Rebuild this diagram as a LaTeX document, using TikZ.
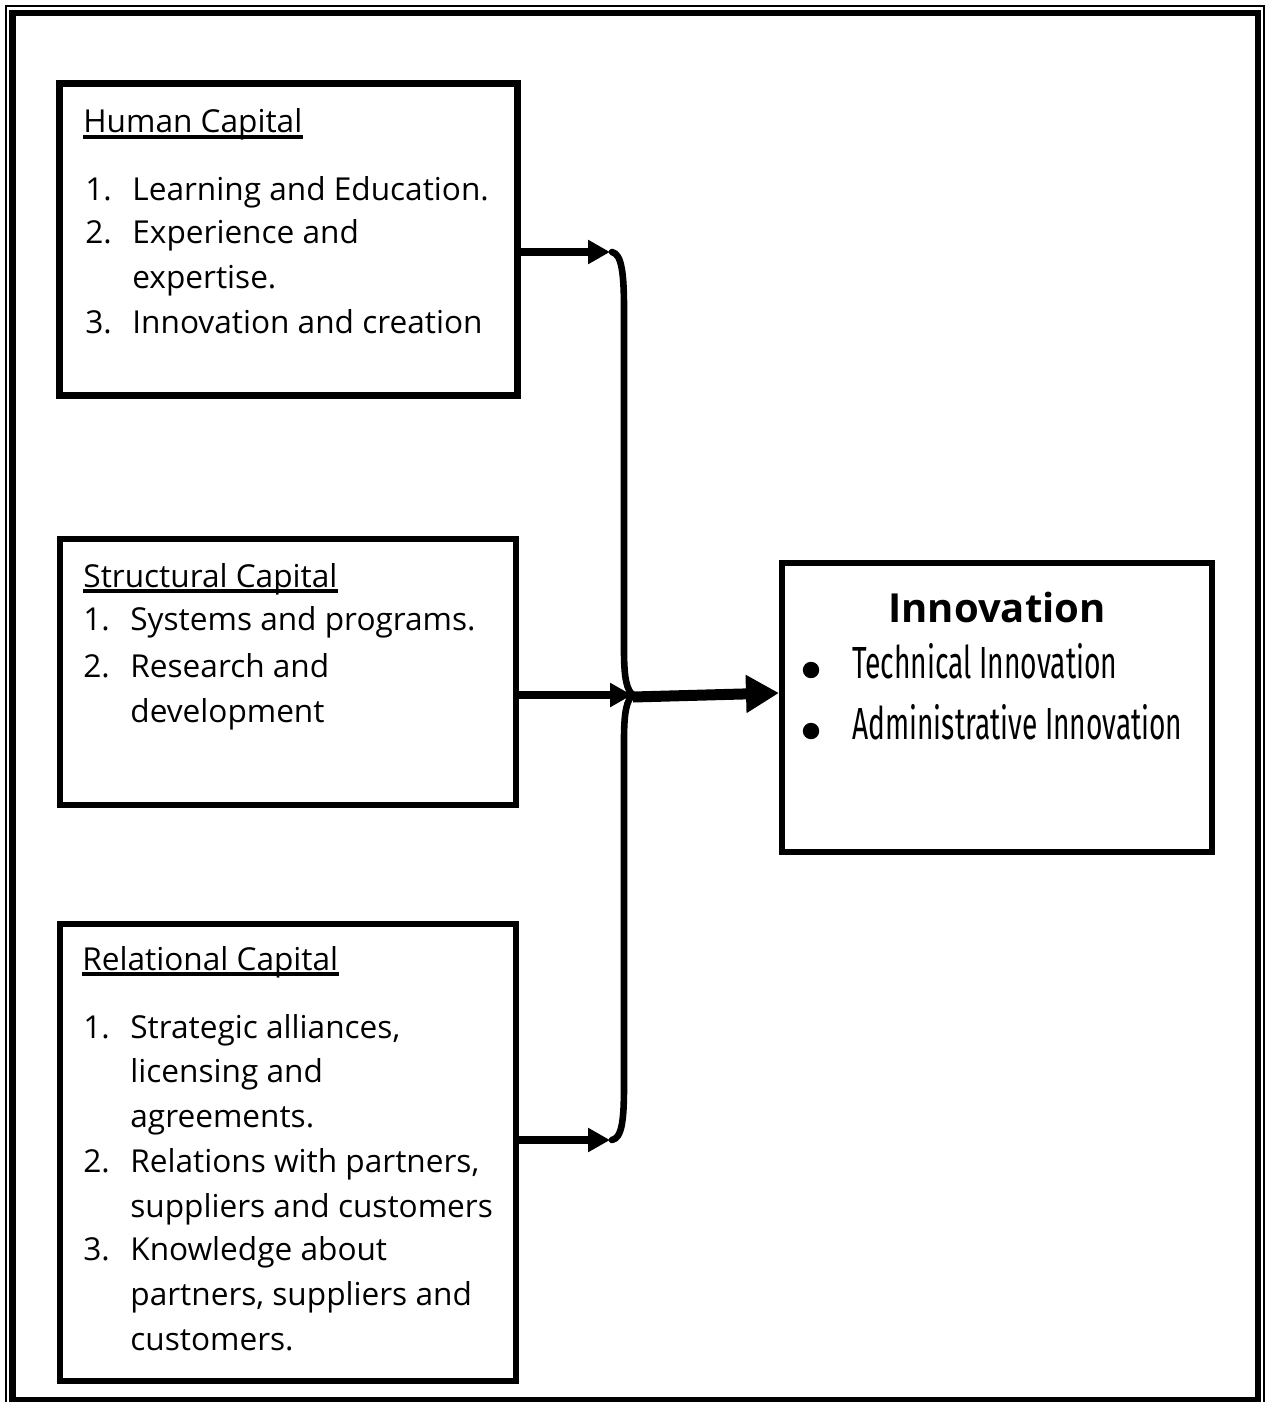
\documentclass[tikz,border=0pt]{standalone}
\usepackage{fontspec}
\usepackage{graphicx}
\setmainfont{Open Sans}
\newfontfamily\condfont{Fira Sans}
\usetikzlibrary{arrows.meta}
\begin{document}
\begin{tikzpicture}[x=0.5pt,y=-0.5pt,
  box/.style={draw,inner sep=0pt,outer sep=0pt},
  txt/.style={anchor=base west,inner sep=0pt,font=\fontsize{15.8}{19}\selectfont},
  cond/.style={anchor=base west,inner sep=0pt,font=\condfont\fontsize{22.5}{26}\selectfont},
  bul/.style={circle,fill,inner sep=0pt,minimum size=8.2pt},
  arr/.style={line width=4pt,-{Triangle[length=11pt,width=11.5pt]}},
  bigarr/.style={line width=5.5pt,-{Triangle[length=16.5pt,width=18pt]}},
  bracestyle/.style={line width=3.3pt,line cap=round,line join=round},
  uline/.style={line width=1.6pt}]
\useasboundingbox (0,0) rectangle (1270,1402);
\fill[white] (0,0) rectangle (1270,1402);
% page frame
\draw[line width=1pt] (5.5,6.5) rectangle (1264,1430);
\draw[line width=3.25pt] (12.5,13) rectangle (1258,1400);

% boxes
\node[box,line width=3.5pt,minimum width=229pt,minimum height=155.5pt] (hc) at (288,239.5) {};
\node[box,line width=3pt,minimum width=228.25pt,minimum height=133pt] (sc) at (288,672) {};
\node[box,line width=3pt,minimum width=228.25pt,minimum height=228.5pt] (rc) at (288,1152.5) {};
\node[box,line width=2.6pt,minimum width=215pt,minimum height=144.5pt] (ic) at (997,707.5) {};

% Human capital text
\node[txt] (hch) at (83,133) {Human Capital};
\draw[uline] ([yshift=-2pt]hch.base west) -- ([yshift=-2pt]hch.base east);
\node[txt] (hn1) at (85,200) {1.};
\node[txt] (ht1) at (132,200) {Learning and Education.};
\node[txt] (hn2) at (85,243) {2.};
\node[txt] (ht2) at (132,243) {Experience and};
\node[txt] (ht3) at (132,288) {expertise.};
\node[txt] (hn3) at (85,333) {3.};
\node[txt] (ht4) at (132,333) {Innovation and creation};

% Structural capital text
\node[txt] (sch) at (83,587) {Structural Capital};
\draw[uline] ([yshift=-2pt]sch.base west) -- ([yshift=-2pt]sch.base east);
\node[txt] (sn1) at (83,630) {1.};
\node[txt] (st1) at (130,630) {Systems and programs.};
\node[txt] (sn2) at (83,677) {2.};
\node[txt] (st2) at (130,677) {Research and};
\node[txt] (st3) at (130,722) {development};

% Relational capital text
\node[txt] (rch) at (82,970) {Relational Capital};
\draw[uline] ([yshift=-2pt]rch.base west) -- ([yshift=-2pt]rch.base east);
\node[txt] (rn1) at (83,1038) {1.};
\node[txt] (rt1) at (130,1038) {Strategic alliances,};
\node[txt] (rt2) at (130,1082) {licensing and};
\node[txt] (rt3) at (130,1127) {agreements.};
\node[txt] (rn2) at (83,1172) {2.};
\node[txt] (rt4) at (130,1172) {Relations with partners,};
\node[txt] (rt5) at (130,1217) {suppliers and customers};
\node[txt] (rn3) at (83,1260) {3.};
\node[txt] (rt6) at (130,1260) {Knowledge about};
\node[txt] (rt7) at (130,1305) {partners, suppliers and};
\node[txt] (rt8) at (130,1350) {customers.};

% Innovation text
\node[anchor=base,inner sep=0pt,font=\bfseries\fontsize{20}{24}\selectfont] (it) at (997,622) {Innovation};
\node[bul] (b1) at (811,670) {};
\node[cond] (i1) at (852,678) {\resizebox{132.5pt}{\height}{Technical Innovation}};
\node[bul] (b2) at (811,731) {};
\node[cond] (i2) at (852,739) {\resizebox{165pt}{\height}{Administrative Innovation}};

% brace
\coordinate (bt) at (612,252);
\coordinate (bm) at (633,695);
\coordinate (bb) at (612,1140);
\draw[bracestyle] (bt) .. controls (622,254) and (624,275) .. (624,310) -- (624,650)
  .. controls (624,680) and (627,690) .. (bm)
  .. controls (627,700) and (624,710) .. (624,740) -- (624,1085)
  .. controls (624,1120) and (622,1138) .. (bb);

% arrows
\draw[arr] (hc.east |- bt) -- ([xshift=-1pt]bt);
\draw[arr] (sc.east |- bm) -- ([xshift=-0.5pt]bm);
\draw[arr] (rc.east |- bb) -- ([xshift=-1pt]bb);
\draw[bigarr] ([yshift=-1pt]bm) -- ([xshift=-1.5pt]ic.west |- 0,693);
\end{tikzpicture}
\end{document}
